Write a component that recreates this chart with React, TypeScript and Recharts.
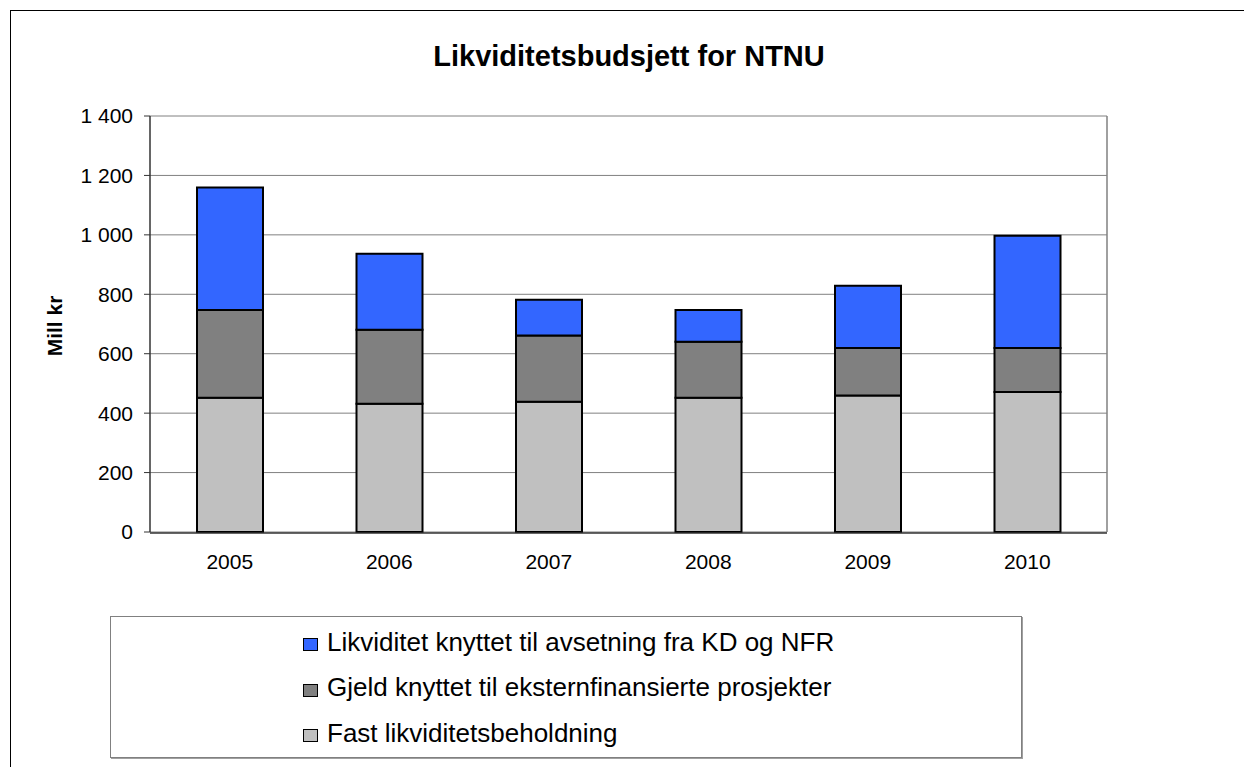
import { BarChart, Bar, XAxis, YAxis, CartesianGrid, Legend, Label } from 'recharts';

const years = ['2005', '2006', '2007', '2008', '2009', '2010'];
const fastBeholdning = [452, 432, 438, 452, 459, 471];
const gjeldProsjekter = [295, 249, 223, 188, 160, 148];
const likviditetAvsetning = [412, 255, 121, 107, 210, 378];
const yTicks = [0, 200, 400, 600, 800, 1000, 1200, 1400];
const edgeTicks = [0, 1, 2, 3, 4, 5, 6];

const FONT = '"Liberation Sans", Arial, sans-serif';

const series = [
  { key: 'fast', name: 'Fast likviditetsbeholdning', fill: '#C0C0C0' },
  { key: 'gjeld', name: 'Gjeld knyttet til eksternfinansierte prosjekter', fill: '#808080' },
  { key: 'likv', name: 'Likviditet knyttet til avsetning fra KD og NFR', fill: '#3366FF' },
];

const data = years.map((year, i) => ({
  year,
  fast: fastBeholdning[i],
  gjeld: gjeldProsjekter[i],
  likv: likviditetAvsetning[i],
}));

const formatTick = (v: number) =>
  v >= 1000 ? `${Math.floor(v / 1000)} ${String(v % 1000).padStart(3, '0')}` : String(v);

function LegendBox() {
  // legend lists the series top-down, reverse of stacking order
  const items = [...series].reverse();
  return (
    <div
      style={{
        boxSizing: 'border-box',
        width: 912,
        height: 142,
        border: '1px solid #808080',
        boxShadow: '1px 1px 0 #a0a0a0',
        background: '#fff',
        paddingLeft: 192,
        paddingTop: 2,
        fontFamily: FONT,
      }}
    >
      {items.map((s) => (
        <div key={s.key} style={{ display: 'flex', alignItems: 'center', height: 45.5 }}>
          <span
            style={{
              display: 'inline-block',
              boxSizing: 'border-box',
              width: 15,
              height: 13,
              background: s.fill,
              border: '1.5px solid #000',
              marginRight: 9,
              marginTop: 6,
            }}
          />
          <span style={{ fontSize: 26, color: '#000', lineHeight: 1 }}>{s.name}</span>
        </div>
      ))}
    </div>
  );
}

export default function App() {
  return (
    <div
      style={{
        position: 'fixed',
        left: 0,
        top: 0,
        width: 1244,
        height: 767,
        overflow: 'hidden',
        background: '#fff',
        fontFamily: FONT,
      }}
    >
      <div
        style={{
          position: 'absolute',
          left: 10,
          top: 10,
          width: 1400,
          height: 900,
          border: '1px solid #000',
        }}
      />
      <div
        style={{
          position: 'absolute',
          left: 0,
          top: 40,
          width: 1258,
          textAlign: 'center',
          fontSize: 29,
          fontWeight: 'bold',
          color: '#000',
        }}
      >
        Likviditetsbudsjett for NTNU
      </div>
      <div style={{ position: 'absolute', left: 0, top: 0 }}>
        <BarChart
          width={1244}
          height={767}
          data={data}
          margin={{ top: 116, right: 136, bottom: 233, left: 0 }}
          barSize={66}
        >
          <CartesianGrid vertical={false} stroke="#808080" strokeWidth={1} />
          <XAxis
            xAxisId="edge"
            type="number"
            domain={[0, 6]}
            ticks={edgeTicks}
            allowDataOverflow
            height={1}
            tick={false}
            tickSize={7}
            tickLine={{ stroke: '#222', strokeWidth: 1 }}
            axisLine={{ stroke: '#333', strokeWidth: 1.5 }}
          />
          <XAxis
            dataKey="year"
            height={1}
            axisLine={false}
            tickLine={false}
            tickSize={0}
            tickMargin={22}
            tick={{ fill: '#000', fontSize: 21, fontFamily: FONT }}
          />
          <YAxis
            width={150}
            domain={[0, 1400]}
            ticks={yTicks}
            interval={0}
            tickFormatter={formatTick}
            tickSize={6}
            tickMargin={11}
            axisLine={{ stroke: '#333', strokeWidth: 1.5 }}
            tickLine={{ stroke: '#333' }}
            tick={{ fill: '#000', fontSize: 21, fontFamily: FONT }}
          >
            <Label
              content={({ viewBox }: any) => {
                const cy = viewBox.y + viewBox.height / 2 + 2;
                return (
                  <text
                    x={54}
                    y={cy}
                    transform={`rotate(-90 54 ${cy})`}
                    textAnchor="middle"
                    dominantBaseline="central"
                    fontSize={21}
                    fontWeight="bold"
                    fontFamily={FONT}
                    fill="#000"
                  >
                    Mill kr
                  </text>
                );
              }}
            />
          </YAxis>
          {/* right-hand plot border */}
          <YAxis
            yAxisId="frame"
            orientation="right"
            width={1}
            domain={[0, 1400]}
            tick={false}
            tickLine={false}
            axisLine={{ stroke: '#808080', strokeWidth: 1.5 }}
          />
          {series.map((s) => (
            <Bar
              key={s.key}
              dataKey={s.key}
              name={s.name}
              stackId="a"
              fill={s.fill}
              stroke="#000"
              strokeWidth={2}
              isAnimationActive={false}
            />
          ))}
          <Legend
            layout="vertical"
            align="center"
            verticalAlign="middle"
            content={() => <LegendBox />}
            wrapperStyle={{ position: 'absolute', left: 110, top: 616, width: 912, height: 142 }}
          />
        </BarChart>
      </div>
    </div>
  );
}
